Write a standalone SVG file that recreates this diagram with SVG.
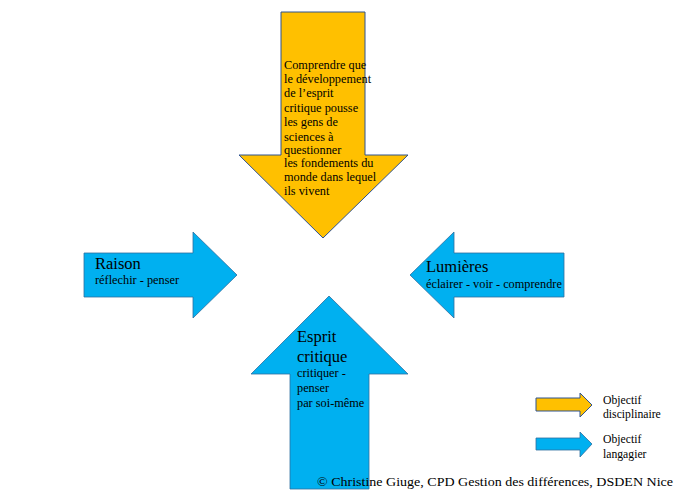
<svg xmlns="http://www.w3.org/2000/svg" width="700" height="500" viewBox="0 0 700 500" font-family="'Liberation Serif', 'DejaVu Serif', serif">
<style>
.y{fill:#FFC000;stroke:#2F528F;stroke-width:1}
.b{fill:#00B0F0;stroke:#2F6FA0;stroke-width:0.8}
text{font-family:'Liberation Serif', 'DejaVu Serif', serif;fill:#000}
.s{font-size:12.3px}
.t{font-size:16.5px}
.l{font-size:11.7px}
</style>
<rect width="700" height="500" fill="#fff"/>
<g id="connectors"></g>
<g id="node-top">
<polygon class="y" points="281,12 365,12 365,155 408,155 323,238 239,155 281,155"/>
<text class="s" x="284">
<tspan x="284" y="69">Comprendre que</tspan>
<tspan x="284" y="83">le développement</tspan>
<tspan x="284" y="97">de l’esprit</tspan>
<tspan x="284" y="112">critique pousse</tspan>
<tspan x="284" y="126">les gens de</tspan>
<tspan x="284" y="141">sciences à</tspan>
<tspan x="284" y="154">questionner</tspan>
<tspan x="284" y="167">les fondements du</tspan>
<tspan x="284" y="181">monde dans lequel</tspan>
<tspan x="284" y="195">ils vivent</tspan>
</text>
</g>
<g id="node-raison">
<polygon class="b" points="84,253 193,253 193,232 237,275 193,318 193,297 84,297"/>
<text class="t" x="95" y="269">Raison</text>
<text class="s" x="95" y="284">réflechir - penser</text>
</g>
<g id="node-lumieres">
<polygon class="b" points="564,253 454,253 454,232 410,275 454,318 454,297 564,297"/>
<text class="t" x="426" y="272">Lumières</text>
<text class="s" x="426" y="288">éclairer - voir - comprendre</text>
</g>
<g id="node-esprit">
<polygon class="b" points="329,296 408,374 369,374 369,489 290,489 290,374 251,374"/>
<text class="t" x="297" y="342">Esprit</text>
<text class="t" x="297" y="362">critique</text>
<text class="s" x="297" y="377">critiquer -</text>
<text class="s" x="297" y="392">penser</text>
<text class="s" x="297" y="407">par soi-même</text>
</g>
<g id="legend-disciplinaire">
<polygon class="y" points="536,398 580,398 580,393 592,405 580,417 580,411 536,411"/>
<text class="l" x="603" y="404">Objectif</text>
<text class="l" x="603" y="418">disciplinaire</text>
</g>
<g id="legend-langagier">
<polygon class="b" points="536,438 580,438 580,432 592,444 580,457 580,450 536,450"/>
<text class="l" x="603" y="443">Objectif</text>
<text class="l" x="603" y="458">langagier</text>
</g>
<text id="copyright" x="317" y="486" font-size="13.5" textLength="356" lengthAdjust="spacingAndGlyphs">© Christine Giuge, CPD Gestion des différences, DSDEN Nice</text>
</svg>
